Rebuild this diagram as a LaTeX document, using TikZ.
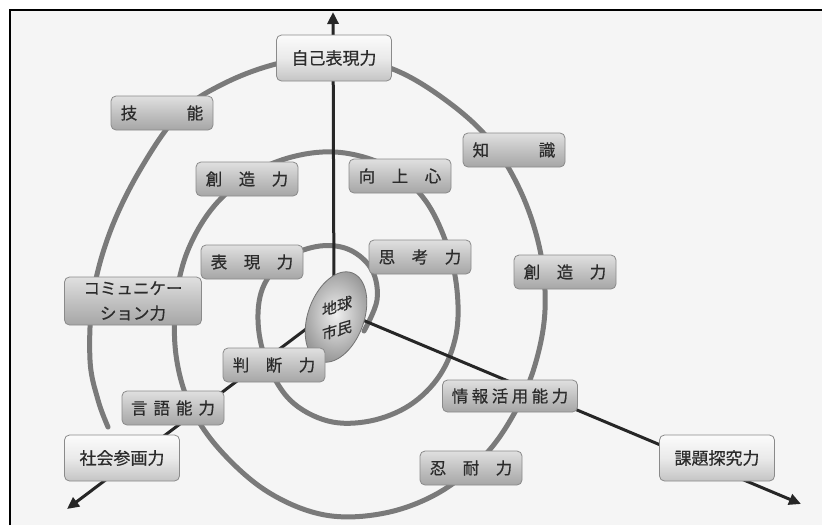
\documentclass[tikz,border=0pt]{standalone}
\usepackage{fontspec}
\newfontfamily\jp{Noto Sans CJK JP}[FakeBold=0.6]
\usetikzlibrary{shapes.geometric,arrows.meta}
\definecolor{bgc}{HTML}{F5F5F5}
\definecolor{spiralc}{HTML}{7A7A7A}
\definecolor{axisc}{HTML}{262626}
\definecolor{txtc}{HTML}{2B2B2B}
\definecolor{bxtop}{HTML}{E0E0E0}
\definecolor{bxmid}{HTML}{C2C2C2}
\definecolor{bxbot}{HTML}{A6A6A6}
\definecolor{bgtop}{HTML}{FBFBFB}
\definecolor{bgmid}{HTML}{EAEAEA}
\definecolor{bgbot}{HTML}{C4C4C4}
\definecolor{bxline}{HTML}{8A8A8A}
\newcommand\sgap{\hspace{6pt}}
\newcommand\tgap{\hspace{3.5pt}}
\begin{document}
\begin{tikzpicture}[x=1pt,y=-1pt,
 box/.style={draw=bxline, line width=0.8pt, rounded corners=5pt, top color=bxtop, bottom color=bxbot, middle color=bxmid, minimum width=102pt, minimum height=34pt, inner sep=0pt, text=txtc, font=\jp\fontsize{16.5}{20}\selectfont},
 bigbox/.style={box, top color=bgtop, bottom color=bgbot, middle color=bgmid, minimum width=115pt, minimum height=46pt, font=\jp\fontsize{17}{20}\selectfont},
 axis/.style={draw=axisc, line width=3pt, -{Triangle[length=12pt,width=11pt]}},
 spiral/.style={draw=spiralc, line width=5pt, line cap=round, line join=round}]
\useasboundingbox (0,0) rectangle (822,525);
\fill[white] (0,0) rectangle (822,525);
\fill[bgc] (10,10) rectangle (822,525);
\draw[line width=2pt] (10,525) -- (10,10) -- (822,10);

% spiral
\draw[spiral] plot[smooth, tension=0.6] coordinates {
(364,331) (377,300) (372,270) (350,250) (320,246) (287,258) (264,285) (258,320) (266,360) (290,400) (328,421) (370,421) (410,405) (440,375) (456,335) (457,290) (447,245) (425,200) (390,168) (345,153) (300,155) (255,172) (215,205) (188,250) (176,300) (176,355) (190,405) (220,450) (268,492) (325,515) (385,513) (440,492) (485,455) (515,412) (535,365) (545,310) (540,250) (520,190) (487,137) (440,96) (390,68) (335,57) (280,63) (225,83) (180,113) (140,170) (110,232) (93,295) (90,360) (98,400) (108,427)};

% axes
\coordinate (O) at (334,308);
\coordinate (tipT) at (333,12);
\coordinate (tipL) at (67,509);
\coordinate (tipR) at (801,504);
\draw[axis] (O) -- (tipT);
\draw[axis] (O) -- (tipL);
\draw[axis] (O) -- (tipR);

% centre
\node[ellipse, draw=black!55, line width=0.8pt, inner color=black!6, outer color=black!40, minimum width=56pt, minimum height=94pt, inner sep=0pt, rotate=-20] (earth) at (336,317) {};
\node[text=txtc, font=\jp\fontsize{15}{24}\selectfont, align=center, yslant=0.3, inner sep=0pt] (earthtxt) at (337,318) {地球\\市民};

% boxes
\node[bigbox] (self) at (334,58) {自己表現力};
\node[bigbox] (shakai) at (122,458) {社会参画力};
\node[bigbox] (kadai) at (717,458) {課題探究力};
\node[box] (gino) at (162,113) {技　　　能};
\node[box] (chishiki) at (514,150) {知　　　識};
\node[box] (sozo1) at (247,179) {創　造　力};
\node[box] (kojo) at (400,176) {向　上　心};
\node[box] (hyogen) at (252,262) {表　現　力};
\node[box] (shiko) at (420,257) {思　考　力};
\node[box] (sozo2) at (565,272) {創　造　力};
\node[box, minimum width=137pt, minimum height=48pt, align=center, font=\jp\fontsize{16.5}{25}\selectfont] (comm) at (133,301) {コミュニケー\\ション力};
\node[box] (handan) at (274,365) {判　断　力};
\node[box] (gengo) at (173,408) {言\sgap 語\sgap 能\sgap 力};
\node[box, minimum width=135pt, minimum height=32pt] (joho) at (510,396) {情\tgap 報\tgap 活\tgap 用\tgap 能\tgap 力};
\node[box] (nintai) at (471,468) {忍　耐　力};
\end{tikzpicture}
\end{document}
